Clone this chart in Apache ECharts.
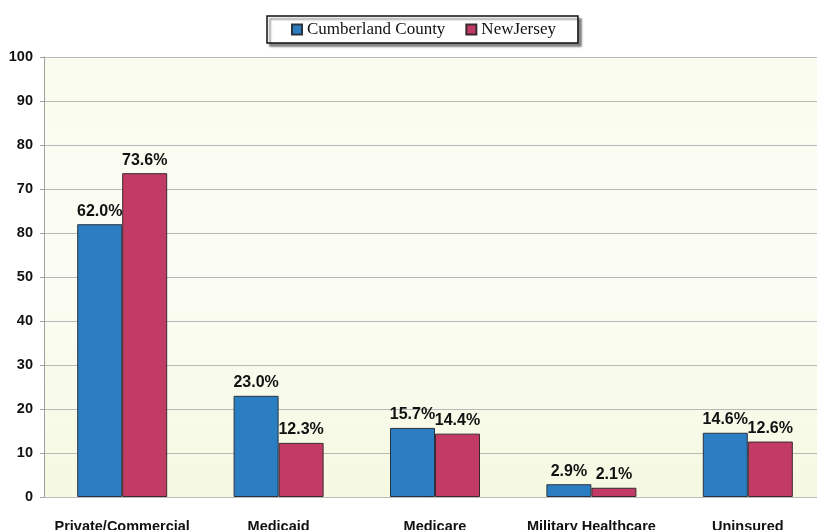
<!DOCTYPE html>
<html>
<head>
<meta charset="utf-8">
<script src="https://cdn.jsdelivr.net/npm/echarts@6/dist/echarts.min.js"></script>
<style>
  html, body { margin: 0; padding: 0; background: #ffffff; }
  #chart { width: 817px; height: 530px; }
</style>
</head>
<body>
<div id="chart"></div>
<script>
// Health insurance coverage by type (percent of population)
const categories = ['Private/Commercial', 'Medicaid', 'Medicare', 'Military Healthcare', 'Uninsured'];
const cumberland = [62.0, 23.0, 15.7, 2.9, 14.6];
const newJersey = [73.6, 12.3, 14.4, 2.1, 12.6];
const seriesNames = ['Cumberland County', 'NewJersey'];
// Y-axis tick labels as printed, from 0 up to 100
const yTickLabels = ['0', '10', '20', '30', '40', '50', '80', '70', '80', '90', '100'];

const chart = echarts.init(document.getElementById('chart'));

const labelStyle = {
  show: true,
  position: 'top',
  distance: 5,
  color: '#111',
  fontFamily: 'Arial, "Liberation Sans", sans-serif',
  fontWeight: 'bold',
  fontSize: 16,
  formatter: p => p.value.toFixed(1) + '%'
};

chart.setOption({
  animation: false,
  backgroundColor: '#ffffff',
  legend: {
    top: 16,
    left: 267,
    padding: [5, 22, 5, 24],
    itemGap: 20,
    itemWidth: 10,
    itemHeight: 10,
    icon: 'rect',
    borderColor: '#111',
    borderWidth: 1.5,
    backgroundColor: '#fff',
    shadowColor: 'rgba(0,0,0,0.45)',
    shadowOffsetX: 3,
    shadowOffsetY: 3,
    shadowBlur: 2,
    textStyle: {
      fontFamily: '"Liberation Serif", "DejaVu Serif", serif',
      fontSize: 17,
      color: '#111'
    },
    data: seriesNames
  },
  grid: {
    left: 44,
    top: 57,
    width: 782,
    height: 440,
    outerBoundsMode: 'none',
    show: true,
    borderWidth: 0,
    backgroundColor: {
      type: 'linear', x: 0, y: 0, x2: 0, y2: 1,
      colorStops: [
        { offset: 0, color: '#f9fcee' },
        { offset: 0.5, color: '#fbfdf4' },
        { offset: 1, color: '#f5f9e1' }
      ]
    }
  },
  xAxis: {
    type: 'category',
    data: categories,
    axisLine: { show: true, lineStyle: { color: '#bbb', width: 1 } },
    axisTick: { show: false },
    axisLabel: {
      margin: 22,
      color: '#111',
      fontFamily: 'Arial, "Liberation Sans", sans-serif',
      fontWeight: 'bold',
      fontSize: 14.5,
      interval: 0
    }
  },
  yAxis: {
    type: 'value',
    min: 0,
    max: 100,
    interval: 10,
    axisLine: { show: true, lineStyle: { color: '#a0a0a0', width: 1 } },
    axisTick: { show: true, length: 4, inside: false, lineStyle: { color: '#a0a0a0' } },
    splitLine: { show: true, lineStyle: { color: '#b8b8b8', width: 1 } },
    axisLabel: {
      margin: 11,
      color: '#111',
      fontFamily: 'Arial, "Liberation Sans", sans-serif',
      fontWeight: 'bold',
      fontSize: 14.5,
      formatter: v => yTickLabels[Math.round(v / 10)]
    }
  },
  series: [
    {
      name: seriesNames[0],
      type: 'bar',
      data: cumberland,
      barWidth: 45,
      barGap: '0%',
      itemStyle: { color: '#2b7ec2', borderColor: '#2a3440', borderWidth: 1 },
      label: labelStyle
    },
    {
      name: seriesNames[1],
      type: 'bar',
      data: newJersey,
      barWidth: 45,
      barGap: '0%',
      itemStyle: { color: '#c23b65', borderColor: '#3a2a30', borderWidth: 1 },
      label: labelStyle
    }
  ]
});
</script>
</body>
</html>
